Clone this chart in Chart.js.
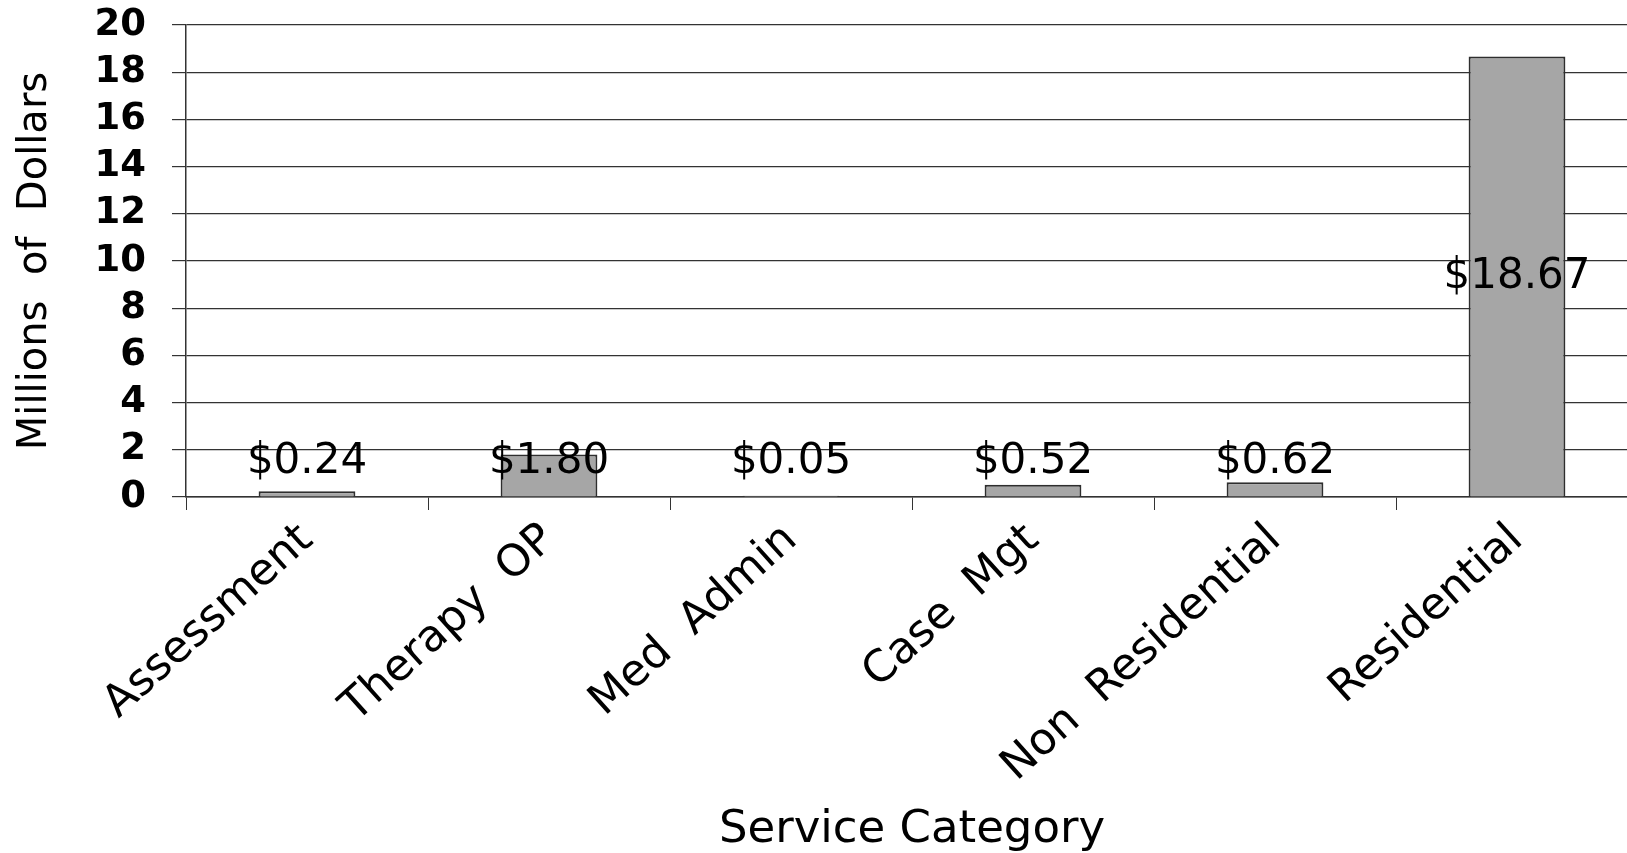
<!DOCTYPE html>
<html>
<head>
<meta charset="utf-8">
<script src="https://cdn.jsdelivr.net/npm/chart.js@4/dist/chart.umd.min.js"></script>
<style>
  html, body { margin: 0; padding: 0; overflow: hidden; background: #fff; }
  #wrap { width: 1640px; height: 853px; }
</style>
</head>
<body>
<div id="wrap"><canvas id="costChart"></canvas></div>
<script>
// Data
const categories = ['Assessment', 'Therapy  OP', 'Med  Admin', 'Case  Mgt', 'Non  Residential', 'Residential'];
const costs = [0.24, 1.80, 0.05, 0.52, 0.62, 18.67];
const costLabels = ['$0.24', '$1.80', '$0.05', '$0.52', '$0.62', '$18.67'];
const yTicks = [0, 2, 4, 6, 8, 10, 12, 14, 16, 18, 20];

const gridColor = '#333333';

// value labels: small bars get a label above, the tall one in the middle
const valueLabels = {
  id: 'valueLabels',
  afterDatasetsDraw(chart) {
    const ctx = chart.ctx;
    const meta = chart.getDatasetMeta(0);
    const y = chart.scales.y;
    ctx.save();
    ctx.font = '42px "DejaVu Sans"';
    ctx.fillStyle = '#000';
    ctx.textAlign = 'center';
    ctx.textBaseline = 'middle';
    meta.data.forEach((bar, i) => {
      const v = costs[i];
      const at = v > 5 ? v / 2 : 1.5;
      ctx.fillText(costLabels[i], bar.x, y.getPixelForValue(at));
    });
    ctx.restore();
  }
};

new Chart(document.getElementById('costChart'), {
  type: 'bar',
  data: {
    labels: categories,
    datasets: [{
      data: costs,
      backgroundColor: '#a6a6a6',
      borderColor: '#2e2e2e',
      borderWidth: 2,
      barPercentage: 0.4,
      categoryPercentage: 1
    }]
  },
  plugins: [valueLabels],
  options: {
    responsive: true,
    maintainAspectRatio: false,
    animation: false,
    layout: { padding: { top: 25, right: 2, left: 0, bottom: 0 } },
    plugins: {
      legend: { display: false },
      tooltip: { enabled: false }
    },
    scales: {
      x: {
        afterFit(scale) {
          scale.height = 356;
          scale.paddingLeft = 0;
          scale.paddingRight = 0;
        },
        grid: {
          drawOnChartArea: false,
          drawTicks: true,
          tickLength: 13,
          color: gridColor,
          offset: true
        },
        border: { color: gridColor, width: 1.5 },
        ticks: {
          autoSkip: false,
          minRotation: 42,
          maxRotation: 42,
          padding: 4,
          color: '#000',
          font: { family: 'DejaVu Sans', size: 44 }
        },
        title: {
          display: true,
          text: 'Service Category',
          color: '#000',
          padding: { top: 0, bottom: 0 },
          font: { family: 'DejaVu Sans', size: 45, lineHeight: 1 }
        }
      },
      y: {
        min: 0,
        max: 20,
        afterFit(scale) {
          scale.width = 186;
          scale.paddingTop = 0;
          scale.paddingBottom = 0;
        },
        afterBuildTicks(scale) { scale.ticks = yTicks.map(v => ({ value: v })); },
        grid: {
          color: gridColor,
          lineWidth: 1.2,
          tickLength: 14
        },
        border: { color: gridColor, width: 1.5 },
        ticks: {
          autoSkip: false,
          padding: 26,
          color: '#000',
          font: { family: 'DejaVu Sans', size: 37, weight: 'bold' }
        },
        title: {
          display: true,
          text: 'Millions  of  Dollars',
          color: '#000',
          padding: { top: 12, bottom: 0 },
          font: { family: 'DejaVu Sans', size: 40 }
        }
      }
    }
  }
});
</script>
</body>
</html>
